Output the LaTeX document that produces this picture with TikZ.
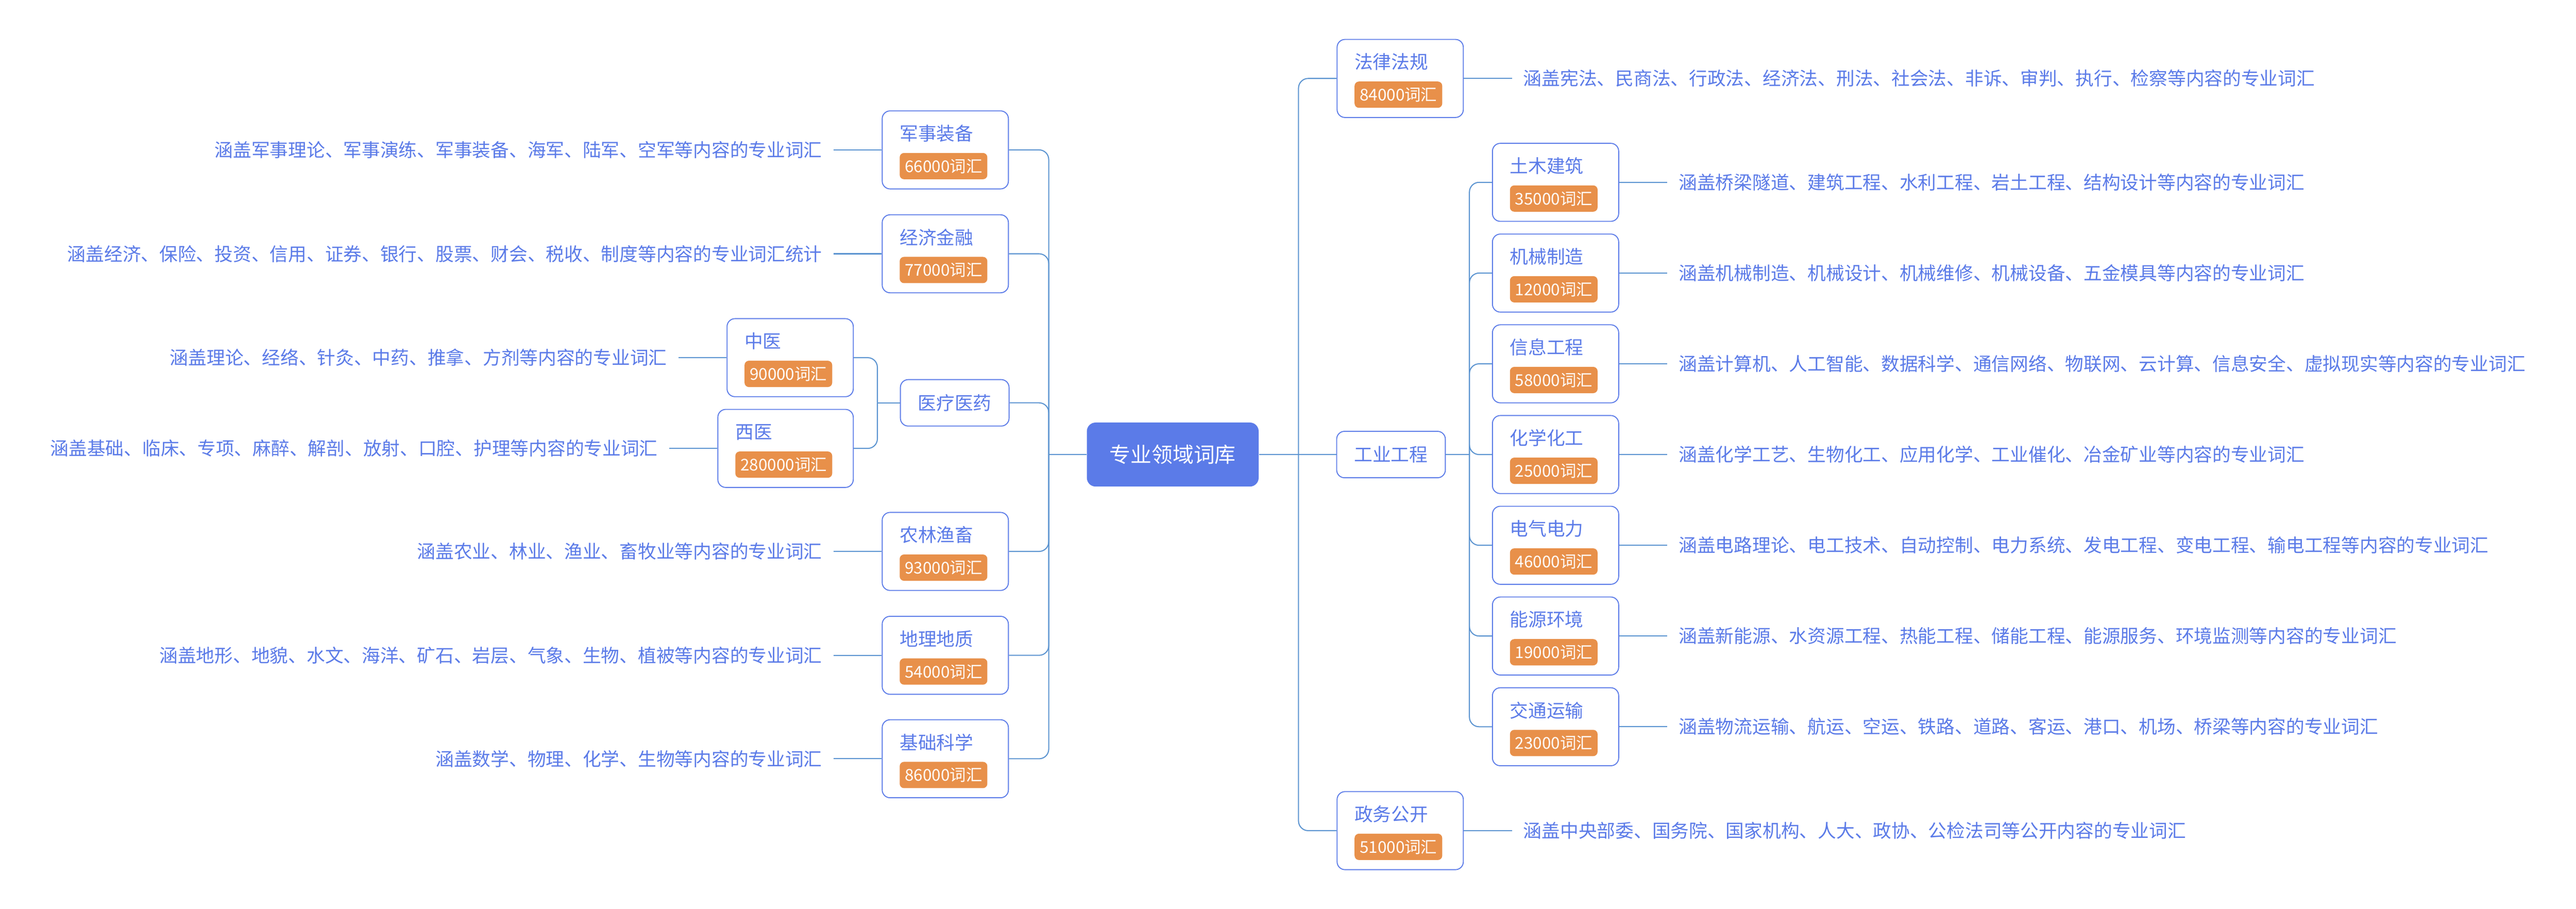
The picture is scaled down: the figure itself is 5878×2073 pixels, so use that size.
\documentclass[tikz,border=0pt]{standalone}
\usepackage{fontspec}
\setmainfont{Noto Sans CJK SC}
\usetikzlibrary{calc}
\definecolor{boxblue}{HTML}{5B7BE8}
\definecolor{linecol}{HTML}{5A93D0}
\definecolor{badgeor}{HTML}{E8904A}
\tikzset{
  cat/.style={draw=boxblue, line width=0.44pt, rounded corners=3.6pt, fill=white,
    minimum height=35.6pt, inner sep=0pt},
  plainbox/.style={draw=boxblue, line width=0.44pt, rounded corners=3.6pt, fill=white,
    minimum width=49.6pt, minimum height=21.2pt, inner sep=0pt, text=boxblue,
    font=\fontsize{8.4pt}{10pt}\selectfont, text height=7.39pt, text depth=1pt},
  centralbox/.style={fill=boxblue, rounded corners=4pt, minimum width=78.4pt,
    minimum height=29.2pt, inner sep=0pt, text=white,
    font=\fontsize{9.6pt}{11pt}\selectfont, text height=8.45pt, text depth=1.15pt},
  ttl/.style={anchor=west, inner sep=0pt, text=boxblue,
    font=\fontsize{8.4pt}{10pt}\selectfont, text height=7.39pt, text depth=1pt},
  badge/.style={anchor=west, fill=badgeor, rounded corners=2pt, minimum height=12pt,
    inner sep=0pt, text=white, font=\fontsize{7.4pt}{9pt}\selectfont,
    text height=6.5pt, text depth=0.9pt},
  leaf/.style={inner xsep=5pt, inner ysep=0pt, text=boxblue,
    font=\fontsize{8.4pt}{10pt}\selectfont, text height=7.39pt, text depth=1pt},
  conn/.style={draw=linecol, line width=0.48pt},
  mainconn/.style={draw=linecol, line width=0.66pt},
  bendconn/.style={conn, rounded corners=4.4pt},
}
% #1 box width, #2 name, #3 position, #4 title, #5 badge text, #6 leaf text
\newcommand\mkcatR[6][57.6pt]{%
  \node[cat, minimum width=#1] (#2) at (#3) {};
  \node[ttl] (#2-t) at ($(#2.west)+(40,-37.5)$) {#4};
  \node[badge, minimum width=#1-17.6pt] (#2-b) at ($(#2.west)+(40,37)$) {#5};
  \node[leaf, anchor=west] (#2-l) at ($(#2.east)+(110,0)$) {#6};
  \draw[conn] (#2.east) -- (#2-l.west);
}
\newcommand\mkcatL[6][57.6pt]{%
  \node[cat, minimum width=#1] (#2) at (#3) {};
  \node[ttl] (#2-t) at ($(#2.west)+(40,-37.5)$) {#4};
  \node[badge, minimum width=#1-17.6pt] (#2-b) at ($(#2.west)+(40,37)$) {#5};
  \node[leaf, anchor=east] (#2-l) at ($(#2.west)+(-110,0)$) {#6};
  \draw[conn] (#2.west) -- (#2-l.east);
}
\begin{document}
\begin{tikzpicture}[x=0.2pt, y=-0.2pt]
\fill[white] (0,0) rectangle (5878,2073);
\useasboundingbox (0,0) rectangle (5878,2073);

% junctions
\coordinate (jL) at (2393,1037);
\coordinate (jR) at (2963,1037);
\coordinate (jI) at (3353,1037);
\coordinate (jM) at (2002,919);

% central
\node[centralbox] (c) at (2676,1037) {专业领域词库};

% right side
\mkcatR{fl}{3195,179}{法律法规}{84000词汇}{涵盖宪法、民商法、行政法、经济法、刑法、社会法、非诉、审判、执行、检察等内容的专业词汇}
\node[plainbox] (gy) at (3174,1037) {工业工程};
\mkcatR{zw}{3195,1895}{政务公开}{51000词汇}{涵盖中央部委、国务院、国家机构、人大、政协、公检法司等公开内容的专业词汇}

\mkcatR{tm}{3549.5,416}{土木建筑}{35000词汇}{涵盖桥梁隧道、建筑工程、水利工程、岩土工程、结构设计等内容的专业词汇}
\mkcatR{jx}{3549.5,623}{机械制造}{12000词汇}{涵盖机械制造、机械设计、机械维修、机械设备、五金模具等内容的专业词汇}
\mkcatR{xx}{3549.5,830}{信息工程}{58000词汇}{涵盖计算机、人工智能、数据科学、通信网络、物联网、云计算、信息安全、虚拟现实等内容的专业词汇}
\mkcatR{hx}{3549.5,1037}{化学化工}{25000词汇}{涵盖化学工艺、生物化工、应用化学、工业催化、冶金矿业等内容的专业词汇}
\mkcatR{dq}{3549.5,1244}{电气电力}{46000词汇}{涵盖电路理论、电工技术、自动控制、电力系统、发电工程、变电工程、输电工程等内容的专业词汇}
\mkcatR{ny}{3549.5,1451}{能源环境}{19000词汇}{涵盖新能源、水资源工程、热能工程、储能工程、能源服务、环境监测等内容的专业词汇}
\mkcatR{jt}{3549.5,1658}{交通运输}{23000词汇}{涵盖物流运输、航运、空运、铁路、道路、客运、港口、机场、桥梁等内容的专业词汇}

% left side
\mkcatL{jz}{2157,342}{军事装备}{66000词汇}{涵盖军事理论、军事演练、军事装备、海军、陆军、空军等内容的专业词汇}
\mkcatL{jj}{2157,579}{经济金融}{77000词汇}{涵盖经济、保险、投资、信用、证券、银行、股票、财会、税收、制度等内容的专业词汇统计}
\node[plainbox] (yl) at (2178.5,919) {医疗医药};
\mkcatL{zy}{1803,816}{中医}{90000词汇}{涵盖理论、经络、针灸、中药、推拿、方剂等内容的专业词汇}
\mkcatL[61.8pt]{xy}{1792.5,1023}{西医}{280000词汇}{涵盖基础、临床、专项、麻醉、解剖、放射、口腔、护理等内容的专业词汇}
\mkcatL{nl}{2157,1258}{农林渔畜}{93000词汇}{涵盖农业、林业、渔业、畜牧业等内容的专业词汇}
\mkcatL{dl}{2157,1495}{地理地质}{54000词汇}{涵盖地形、地貌、水文、海洋、矿石、岩层、气象、生物、植被等内容的专业词汇}
\mkcatL{jc}{2157,1731}{基础科学}{86000词汇}{涵盖数学、物理、化学、生物等内容的专业词汇}

% connectors: central
\draw[mainconn] (c.east) -- (jR);
\draw[mainconn] (c.west) -- (jL);
% right trunk
\draw[bendconn] (jR) |- (fl.west);
\draw[conn] (jR) -- (gy.west);
\draw[bendconn] (jR) |- (zw.west);
% industrial trunk
\draw[mainconn] (gy.east) -- (jI);
\foreach \n in {tm,jx,xx,hx,dq,ny,jt} { \draw[bendconn] (jI) |- (\n.west); }
% left trunk
\foreach \n in {jz,jj,yl,nl,dl,jc} { \draw[bendconn] (jL) |- (\n.east); }
% medical trunk
\draw[conn] (yl.west) -- (jM);
\draw[bendconn] (jM) |- (zy.east);
\draw[bendconn] (jM) |- (xy.east);
\end{tikzpicture}
\end{document}
